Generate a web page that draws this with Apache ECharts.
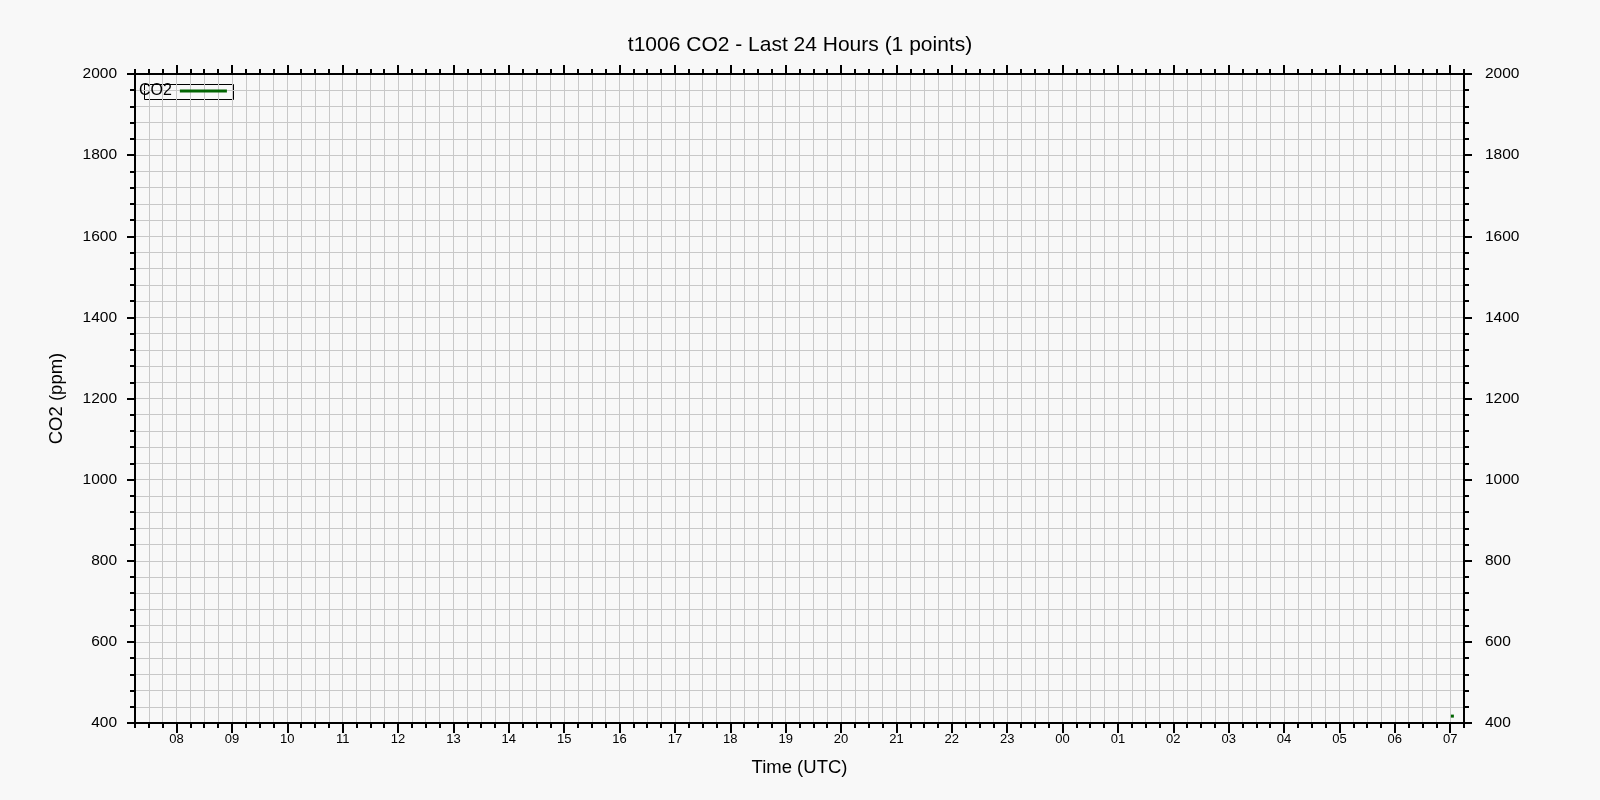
<!DOCTYPE html>
<html>
<head>
<meta charset="utf-8">
<title>t1006 CO2</title>
<script src="https://cdn.jsdelivr.net/npm/echarts@6/dist/echarts.min.js"></script>
<style>
  html, body { margin: 0; padding: 0; background: #f8f8f8; }
  #chart { width: 1600px; height: 800px; }
</style>
</head>
<body>
<div id="chart"></div>
<script>
// time is in hours since 00:00 UTC of the first day shown
const windowStart = 7.25;
const windowEnd = 31.25;
const hourTicks = [8, 9, 10, 11, 12, 13, 14, 15, 16, 17, 18, 19, 20, 21, 22, 23, 24, 25, 26, 27, 28, 29, 30, 31];
const hourLabels = ['08', '09', '10', '11', '12', '13', '14', '15', '16', '17', '18', '19',
    '20', '21', '22', '23', '00', '01', '02', '03', '04', '05', '06', '07'];
const co2Times = [31.04];
const co2Values = [417];
const yTicks = [400, 600, 800, 1000, 1200, 1400, 1600, 1800, 2000];

const font = 'Liberation Sans';
const black = '#000';
const gridGrey = '#c8c8c8';

const chart = echarts.init(document.getElementById('chart'), null, { renderer: 'canvas' });

function hourLabel(v) {
    const i = hourTicks.indexOf(Math.round(v));
    return i >= 0 ? hourLabels[i] : '';
}

function xAxisMinor(position, withLabels, withGrid) {
    return {
        type: 'value',
        position,
        min: windowStart,
        max: windowEnd,
        interval: 0.25,
        axisLine: { show: true, onZero: false, lineStyle: { color: black, width: 2 } },
        axisTick: { show: true, length: 5, lineStyle: { color: black, width: 2 } },
        splitLine: { show: withGrid, lineStyle: { color: gridGrey, width: 1 } },
        axisLabel: withLabels ? {
            show: true,
            customValues: hourTicks,
            formatter: hourLabel,
            fontFamily: font,
            fontSize: 13,
            color: black,
            margin: 10,
        } : { show: false },
        name: withLabels ? 'Time (UTC)' : '',
        nameLocation: 'middle',
        nameGap: 35,
        nameTextStyle: { fontFamily: font, fontSize: 18.5, color: black },
    };
}

function xAxisMajor(position, len) {
    return {
        type: 'value',
        position,
        min: windowStart,
        max: windowEnd,
        axisLine: { show: false, onZero: false },
        axisTick: { show: true, customValues: hourTicks, length: len, lineStyle: { color: black, width: 2 } },
        splitLine: { show: false },
        axisLabel: { show: false },
    };
}

function yAxis(position, withGrid, margin) {
    return {
        type: 'value',
        position,
        min: 400,
        max: 2000,
        interval: 200,
        axisLine: { show: true, onZero: false, lineStyle: { color: black, width: 2 } },
        axisTick: { show: true, length: 8, lineStyle: { color: black, width: 2 } },
        minorTick: { show: true, splitNumber: 5, length: 5, lineStyle: { color: black, width: 2 } },
        splitLine: { show: withGrid, lineStyle: { color: gridGrey, width: 1 } },
        minorSplitLine: { show: withGrid, lineStyle: { color: gridGrey, width: 1 } },
        axisLabel: {
            show: true,
            customValues: yTicks,
            formatter: (v) => String(v),
            fontFamily: font,
            fontSize: 15.5,
            color: black,
            margin,
        },
        name: withGrid ? 'CO2 (ppm)' : '',
        nameLocation: 'middle',
        nameGap: 69,
        nameRotate: 90,
        nameTextStyle: { fontFamily: font, fontSize: 18.5, color: black },
    };
}

chart.setOption({
    backgroundColor: '#f8f8f8',
    animation: false,
    title: {
        text: 't1006 CO2 - Last 24 Hours (' + co2Values.length + ' points)',
        left: 'center',
        top: 35,
        padding: 0,
        textStyle: { fontFamily: font, fontSize: 21, fontWeight: 'normal', color: black },
    },
    legend: {
        left: 139,
        top: 83,
        padding: 0,
        align: 'right',
        icon: 'rect',
        itemWidth: 47,
        itemHeight: 3,
        textStyle: { fontFamily: font, fontSize: 16, color: black, padding: [0, 3, 0, 0] },
        data: ['CO2'],
    },
    graphic: [{
        type: 'rect',
        left: 144,
        top: 84,
        shape: { width: 89, height: 15 },
        style: { fill: 'rgba(255,255,255,0)', stroke: black, lineWidth: 1 },
        z: -1,
    }],
    grid: {
        left: 135,
        right: 136,
        top: 74,
        bottom: 77,
        outerBoundsMode: 'none',
        containLabel: false,
    },
    xAxis: [
        xAxisMinor('bottom', true, true),
        xAxisMajor('bottom', 10),
        xAxisMinor('top', false, false),
        xAxisMajor('top', 9),
    ],
    yAxis: [
        yAxis('left', true, 18),
        yAxis('right', false, 21),
    ],
    series: [{
        name: 'CO2',
        type: 'line',
        xAxisIndex: 0,
        yAxisIndex: 0,
        data: co2Times.map((t, i) => [t, co2Values[i]]),
        showSymbol: true,
        symbol: 'rect',
        symbolSize: 3,
        itemStyle: { color: '#006400' },
        lineStyle: { color: '#006400', width: 2 },
    }],
});

window.onresize = () => chart.resize();
</script>
</body>
</html>
